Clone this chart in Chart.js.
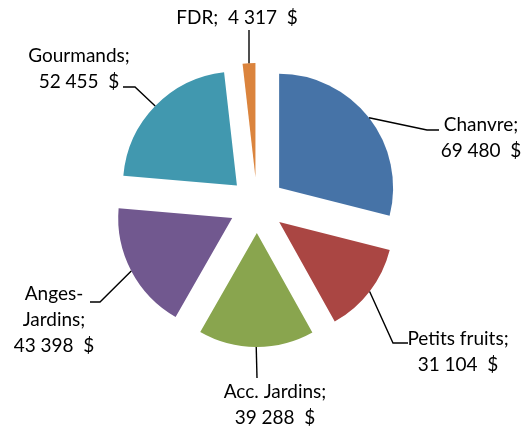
<!DOCTYPE html>
<html>
<head>
<meta charset="utf-8">
<script src="https://cdn.jsdelivr.net/npm/chart.js@4.4.0/dist/chart.umd.min.js"></script>
<style>
    html, body { margin: 0; padding: 0; background: #fff; }
    canvas { display: block; }
</style>
</head>
<body>
<canvas id="salesPie" width="528" height="431"></canvas>
<script>
// Data
const categories = ['Chanvre', 'Petits fruits', 'Acc. Jardins', 'Anges-Jardins', 'Gourmands', 'FDR'];
const amounts = [69480, 31104, 39288, 43398, 52455, 4317];
const sliceColors = ['#4673a7', '#aa4643', '#89a54e', '#71588f', '#4198af', '#db843d'];

// Label placement (text centre x, first baseline y, leader points after the arc)
const labelLayout = [
    { x: 481, y: 131, leader: [[427, 130], [439, 130]] },
    { x: 458, y: 345, leader: [[393, 343], [408, 343]] },
    { x: 275, y: 398, leader: [[257, 378]] },
    { x: 54,  y: 300, leader: [[100, 302], [90, 302]] },
    { x: 79,  y: 62,  leader: [[135, 87], [123, 87]] },
    { x: 237, y: 24,  leader: [[249, 30]] }
];
const EXPLODE = 28;
const LABEL_FONT = '19px Lato';
const LINE_H = 26;

function fmt(v) {
    return String(v).replace(/\B(?=(\d{3})+(?!\d))/g, ' ');
}

function labelLines(i) {
    const name = categories[i] + ';';
    const val = fmt(amounts[i]) + '  $';
    if (categories[i] === 'FDR') return [name + '  ' + val];
    if (name.indexOf('-') > 0) {
        const parts = name.split('-');
        return [parts[0] + '-', parts[1], val];
    }
    return [name, val];
}

// pull every slice out along its middle angle
const explodePlugin = {
    id: 'explode',
    afterDatasetsUpdate(chart) {
        chart.getDatasetMeta(0).data.forEach(arc => {
            const mid = (arc.startAngle + arc.endAngle) / 2;
            arc.x += Math.cos(mid) * EXPLODE;
            arc.y += Math.sin(mid) * EXPLODE;
        });
    }
};

// leader lines + labels
const labelPlugin = {
    id: 'pieLabels',
    afterDatasetsDraw(chart) {
        const ctx = chart.ctx;
        ctx.save();
        chart.getDatasetMeta(0).data.forEach((arc, i) => {
            const mid = (arc.startAngle + arc.endAngle) / 2;
            const r = arc.outerRadius;
            const lay = labelLayout[i];
            ctx.beginPath();
            ctx.moveTo(arc.x + Math.cos(mid) * r, arc.y + Math.sin(mid) * r);
            lay.leader.forEach(p => ctx.lineTo(p[0], p[1]));
            ctx.strokeStyle = '#000';
            ctx.lineWidth = 1.4;
            ctx.stroke();

            ctx.fillStyle = '#000';
            ctx.font = LABEL_FONT;
            ctx.textAlign = 'center';
            ctx.textBaseline = 'alphabetic';
            labelLines(i).forEach((t, k) => {
                ctx.fillText(t, lay.x, lay.y + k * LINE_H);
            });
        });
        ctx.restore();
    }
};

document.addEventListener('DOMContentLoaded', function() {
    const ctx = document.getElementById('salesPie').getContext('2d');
    new Chart(ctx, {
        type: 'pie',
        data: {
            labels: categories,
            datasets: [{
                data: amounts,
                backgroundColor: sliceColors,
                borderWidth: 0,
                radius: 114
            }]
        },
        options: {
            responsive: false,
            animation: false,
            layout: {
                padding: { left: 0, right: 14, top: 0, bottom: 21 }
            },
            plugins: {
                legend: { display: false },
                tooltip: { enabled: false }
            }
        },
        plugins: [explodePlugin, labelPlugin]
    });
});
</script>
</body>
</html>
